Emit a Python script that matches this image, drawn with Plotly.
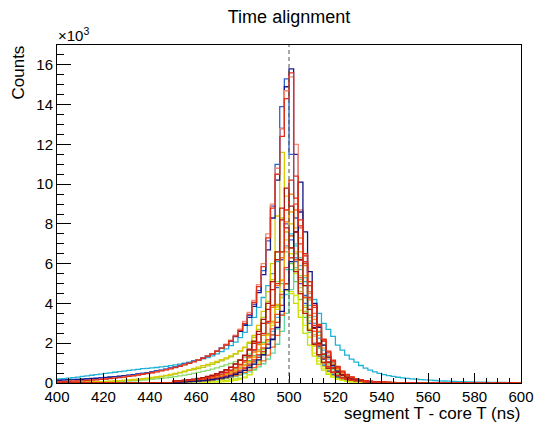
import plotly.graph_objects as go

# ---------------- axis / binning ----------------
X_MIN, X_MAX, BIN_W = 400, 600, 2
X_TICKS = [400, 420, 440, 460, 480, 500, 520, 540, 560, 580, 600]
Y_TICKS = [0, 2, 4, 6, 8, 10, 12, 14, 16]
NARROW_START = 450  # narrow histograms are listed from 450 ns to 550 ns

# ---------------- broad histograms (400..600 ns, 2 ns bins, counts) ----------------
cyan_broad = [200,225,250,275,300, 330,360,390,420,450,
              480,510,540,570,600, 630,660,690,720,740,
              760,780,810,840,870, 910,950,1000,1050,1100,
              1150,1210,1280,1360,1460, 1580,1720,1880,2060,2280,
              2550,2900,3300,3800,4300, 4900,5500,6100,6600,6900,
              6800,6300,5700,5100,4600, 4200,3500,3000,2700,2350,
              1900,1650,1400,1200,1050, 880,750,650,560,480,
              420,370,330,290,260, 235,210,190,170,155,
              140,125,110,100,90, 80,72,65,58,52,
              46,42,38,34,30, 27,24,22,20,18]

green_mid = [10,12,14,16,19, 22,26,30,35,40,
             46,53,61,70,80, 92,106,122,140,160,
             182,206,232,260,290, 322,358,396,438,482,
             530,582,640,700,765, 835,910,990,1080,1180,
             1300,1450,1650,1950,2400, 3000,3900,5100,6600,7600,
             7400,6500,5400,4300,3300, 2450,1750,1230,850,580,
             390,265,180,125,88, 62,45,33,25,19,
             15,12,10,8,6, 5,4,4,3,3,
             2,2,2,2,1, 1,1,1,1,1,
             1,1,1,1,1, 1,1,1,1,1]

olive_mid = [15,18,21,25,29, 34,40,46,53,61,
             70,80,91,104,118, 134,152,172,195,220,
             248,280,315,355,400, 450,505,565,630,670,
             720,790,860,940,1020, 1110,1210,1320,1450,1600,
             1780,2000,2300,2700,3300, 4100,5200,6600,8300,7600,
             6800,5700,4600,3600,2700, 1950,1380,960,660,450,
             310,215,150,108,78, 57,42,31,24,18,
             14,11,9,7,6, 5,4,4,3,3,
             2,2,2,2,1, 1,1,1,1,1,
             1,1,1,1,1, 1,1,1,1,1]

yellow_mid = [20,24,28,33,38, 44,50,57,65,74,
              84,95,108,122,138, 156,176,198,222,250,
              280,312,348,388,432, 480,535,595,660,730,
              800,870,940,1010,1090, 1170,1260,1360,1480,1620,
              1800,2050,2400,2900,3600, 4600,6000,8400,11600,9400,
              8000,6600,5100,3800,2700, 1850,1250,850,580,400,
              280,200,145,105,78, 58,44,34,27,21,
              17,14,11,9,8, 7,6,5,4,4,
              3,3,3,2,2, 2,2,1,1,1,
              1,1,1,1,1, 1,1,1,1,1]

blue_broad = [150,160,170,180,190, 200,215,230,245,265,
              285,305,325,350,375, 400,425,455,490,525,
              560,605,650,700,755, 815,880,950,1025,1100,
              1180,1270,1370,1480,1610, 1760,1930,2120,2350,2620,
              2950,3400,3950,4650,5650, 7150,8900,11000,13900,15300,
              11500,8300,6200,4400,3000, 2000,1350,900,600,420,
              300,215,160,120,90, 70,55,45,37,31,
              26,22,19,16,14, 12,11,10,9,8,
              7,6,6,5,5, 4,4,4,3,3,
              3,3,2,2,2, 2,2,1,1,1]

navy_broad = [130,140,150,160,170, 185,200,215,230,250,
              270,290,310,335,360, 385,410,440,475,510,
              545,590,635,685,740, 800,865,935,1010,1090,
              1170,1260,1360,1470,1600, 1750,1920,2110,2340,2600,
              2900,3300,3850,4550,5450, 6700,8300,10200,12800,14900,
              15800,11500,8600,6100,4200, 2800,1850,1200,780,520,
              360,260,190,140,105, 80,62,50,41,34,
              28,24,20,17,15, 13,11,10,9,8,
              7,6,6,5,5, 4,4,4,3,3,
              3,3,2,2,2, 2,2,1,1,1]

salmon_broad = [70,80,90,100,110, 120,135,150,170,190,
                210,230,255,280,310, 340,370,405,440,480,
                525,570,620,670,725, 785,850,920,995,1075,
                1160,1255,1360,1480,1615, 1770,1950,2160,2410,2710,
                3100,3550,4150,4950,6000, 7500,9000,10800,12800,14700,
                15400,12000,8700,6400,4500, 3000,2000,1300,850,560,
                380,265,190,140,105, 80,62,50,41,34,
                28,24,20,17,15, 13,11,10,9,8,
                7,6,6,5,5, 4,4,4,3,3,
                3,3,2,2,2, 2,2,1,1,1]

red_broad = [60,70,80,90,100, 110,125,140,160,180,
             200,220,245,270,300, 330,360,395,430,470,
             515,560,610,660,715, 775,840,910,985,1065,
             1150,1245,1350,1465,1600, 1750,1920,2120,2360,2650,
             3000,3450,4050,4850,5850, 7300,8800,10500,12400,14300,
             15600,10400,8200,6100,4300, 2900,1900,1250,820,540,
             370,260,190,140,105, 80,62,50,41,34,
             28,24,20,17,15, 13,11,10,9,8,
             7,6,6,5,5, 4,4,4,3,3,
             3,3,2,2,2, 2,2,1,1,1]

# ---------------- narrow histograms (450..550 ns, 2 ns bins, counts) ----------------
red_a = [80,95,110,130,155, 185,220,265,320,380, 450,540,650,780,940, 1130,1370,1680,2050,2500,
         3100,3900,5000,6600,8700, 10200,9300,7900,6500,5100, 3900,2950,2200,1600,1150,
         830,600,430,310,225, 165,120,90,68,52, 40,31,25,20,16]
darkred_a = [90,105,125,150,180, 215,260,310,375,450, 540,650,790,950,1150, 1400,1700,2100,2600,3200,
             4000,5100,6600,8200,9800, 8900,7600,6200,4900,3700, 2750,2000,1450,1050,750,
             540,390,280,200,145, 105,80,60,46,36, 28,22,18,14,11]
orange_a = [70,80,95,115,135, 160,195,235,280,340, 410,490,590,710,860, 1040,1270,1560,1930,2400,
            3000,3800,4900,6300,8100, 9500,8700,7300,5900,4600, 3500,2600,1900,1380,1000,
            720,520,375,270,195, 145,105,80,60,46, 35,27,21,17,13]
red_b = [50,60,70,85,100, 120,145,175,210,255, 305,370,445,540,650, 790,960,1170,1430,1760,
         2180,2720,3450,4450,5800, 7400,9000,7800,6400,5100, 3900,2900,2150,1550,1120,
         800,580,420,300,215, 155,115,85,64,48, 37,28,22,17,13]
navy_b = [40,50,60,70,85, 100,120,145,175,210, 250,300,360,440,530, 640,780,950,1160,1420,
          1750,2200,2800,3600,4700, 6100,7600,10100,7600,5600, 4000,2800,1900,1300,880,
          600,410,280,195,135, 95,68,50,37,28, 21,16,12,9,7]
blue_b = [70,85,100,120,145, 175,210,250,300,360, 430,520,630,760,920, 1110,1350,1650,2020,2480,
          3050,3800,4800,6200,8000, 7200,6100,5000,4000,3100, 2350,1750,1300,950,690,
          500,360,260,190,140, 100,75,56,42,32, 25,19,15,12,9]
cyan_b = [50,60,70,85,100, 120,145,175,210,250, 300,360,430,520,630, 760,920,1120,1370,1680,
          2080,2600,3300,4300,5700, 7500,6900,5900,4900,3900, 3000,2250,1650,1200,860,
          620,450,320,235,170, 125,92,68,51,38, 29,22,17,13,10]
teal_b = [40,48,58,70,84, 100,120,145,175,210, 250,300,360,435,525, 635,770,940,1150,1410,
          1740,2160,2720,3450,4450, 5700,7000,6300,5300,4300, 3350,2550,1900,1400,1020,
          740,530,380,275,200, 145,105,78,58,44, 33,25,19,15,11]
green_b = [60,72,86,104,125, 150,180,215,260,310, 370,445,535,645,775, 935,1130,1370,1670,2040,
           2500,3100,3900,5000,6600, 6000,5100,4200,3300,2550, 1920,1420,1040,760,550,
           400,290,210,150,110, 80,60,45,34,26, 20,15,12,9,7]
lgreen_b = [45,54,65,78,94, 113,136,164,198,238, 286,345,415,500,600, 725,875,1060,1290,1580,
            1950,2420,3050,3900,5000, 6100,5600,4800,3900,3100, 2350,1750,1280,930,670,
            480,345,250,180,130, 95,70,52,39,29, 22,17,13,10,8]
yellow_b = [55,66,80,96,115, 138,166,200,240,290, 350,420,505,610,735, 885,1070,1300,1590,1950,
            2420,3020,3850,5200,7200, 6500,5500,4500,3500,2650, 1950,1420,1030,740,530,
            380,275,200,145,105, 77,57,42,32,24, 18,14,11,8,6]
orange_b = [55,66,80,96,115, 138,166,200,240,290, 350,420,505,610,735, 885,1070,1300,1590,1960,
            2450,3080,3950,5150,6800, 8600,7800,6600,5400,4200, 3200,2400,1750,1270,920,
            660,475,340,245,175, 125,92,68,50,38, 29,22,17,13,10]
lime_a = [15,18,22,27,33, 40,48,58,70,85, 105,130,160,200,250, 300,420,650,1000,1500,
          2100,2900,3700,4300,5000, 4500,4000,3300,2500,1900, 1350,950,650,440,300,
          200,135,90,62,43, 30,21,15,11,8, 6,4,3,2,2]
lime_b = [10,12,14,17,20, 24,29,35,42,50, 60,75,95,130,180, 260,420,700,1100,1700,
          2400,3100,3800,4600,4650, 4600,4400,3650,2900,2300, 1500,1100,750,490,300,
          200,130,85,58,40, 28,20,14,10,7, 5,4,3,2,2]
darkred_b = [100,120,140,165,195, 230,275,330,395,470, 560,670,800,960,1150, 1380,1660,2000,2450,3000,
             3700,4700,6200,8800,7800, 6800,5600,4500,3500,2650, 1950,1420,1030,740,530,
             380,275,200,145,105, 77,57,42,32,24, 18,14,11,8,6]
red_c = [45,54,65,78,94, 113,136,164,198,238, 286,345,415,500,600, 725,875,1060,1290,1580,
         1950,2420,3050,3900,5000, 6300,7600,7000,6000,4900, 3800,2850,2100,1520,1090,
         780,560,400,285,205, 148,107,78,57,42, 31,23,17,13,10]
orange_c = [35,42,50,60,72, 86,103,124,149,179, 215,258,310,372,446, 535,642,770,925,1110,
            1400,1800,2400,3400,5000, 6800,6200,5300,4300,3400, 2600,1950,1450,1060,770,
            560,405,295,215,155, 113,82,60,44,32, 24,18,13,10,8]
aqua_b = [30,36,43,52,62, 75,90,108,130,156, 187,225,270,324,389, 467,560,672,806,968,
          1200,1500,1950,2600,3500, 4700,5800,5200,4300,3400, 2600,1900,1400,1020,740,
          540,390,285,205,150, 110,80,58,42,31, 23,17,13,10,7]

# drawing order (later on top) and colours
SERIES = [
    (cyan_broad, "#1fb2d6"), (green_mid, "#86dc6c"), (olive_mid, "#bcc81e"),
    (yellow_mid, "#d4cc00"), (blue_broad, "#2a62d6"), (navy_broad, "#1a1a8a"),
    (salmon_broad, "#f08a78"),
    (blue_b, "#3a5cd6"), (cyan_b, "#34bde4"), (teal_b, "#44d2bc"), (green_b, "#5cc85c"),
    (lgreen_b, "#98e272"), (lime_a, "#c4e000"), (lime_b, "#d6ea10"), (yellow_b, "#e8dc10"),
    (orange_b, "#f4a818"), (aqua_b, "#5ad8a0"), (orange_a, "#f07d14"), (orange_c, "#f06020"),
    (red_c, "#d83c20"), (red_b, "#ea5030"), (navy_b, "#121280"), (darkred_b, "#c01a10"),
    (darkred_a, "#a8140a"), (red_a, "#e02a12"), (red_broad, "#e0301a"),
]

n_bins = (X_MAX - X_MIN) // BIN_W
edges = [X_MIN + BIN_W * i for i in range(n_bins + 1)]
pad_left = (NARROW_START - X_MIN) // BIN_W

fig = go.Figure()
for vals, col in SERIES:
    if len(vals) < n_bins:
        full = [0] * pad_left + list(vals)
        full = full + [0] * (n_bins - len(full))
    else:
        full = list(vals)
    ys = [v / 1000.0 for v in full]
    fig.add_trace(go.Scatter(
        x=edges, y=ys + [ys[-1]], mode="lines",
        line=dict(color=col, width=1.3, shape="hv"),
        hoverinfo="skip", showlegend=False))

FONT = "Liberation Sans, Arial, Helvetica, sans-serif"

fig.add_shape(type="line", x0=500, x1=500, xref="x", y0=0, y1=1, yref="paper",
              line=dict(color="#505050", width=1, dash="4px,3px"))

fig.update_layout(
    width=536, height=425,
    margin=dict(l=57, r=15, t=45, b=42, autoexpand=False),
    paper_bgcolor="white", plot_bgcolor="white",
    font=dict(family=FONT, color="black"),
    title=dict(text="Time alignment", x=0.5, xref="paper", y=1 - 17 / 425,
               yanchor="middle", xanchor="center", font=dict(size=18, family=FONT)),
    xaxis=dict(range=[X_MIN, X_MAX], tickvals=X_TICKS, ticks="inside", ticklen=10,
               tickcolor="black", showline=True, linecolor="black", linewidth=1,
               mirror=True, showgrid=False, zeroline=False, automargin=False,
               tickfont=dict(size=15, family=FONT),
               minor=dict(dtick=5, tick0=400, ticks="inside", ticklen=5, tickcolor="black")),
    yaxis=dict(range=[0, 17.0], tickvals=Y_TICKS, ticktext=[str(t) for t in Y_TICKS],
               ticks="inside", ticklen=14, automargin=False,
               tickcolor="black", showline=True, linecolor="black", linewidth=1,
               mirror=True, showgrid=False, zeroline=False,
               tickfont=dict(size=15, family=FONT),
               minor=dict(dtick=0.5, tick0=0, ticks="inside", ticklen=7, tickcolor="black")),
)

fig.add_annotation(text="×10<sup>3</sup>", xref="paper", yref="paper", x=0, y=1,
                   xanchor="left", yanchor="bottom", showarrow=False,
                   font=dict(size=15, family=FONT), borderpad=0)
fig.add_annotation(text="Counts", xref="paper", yref="paper", x=(17.5 - 57) / 464, y=1,
                   xanchor="center", yanchor="top", textangle=-90, showarrow=False,
                   font=dict(size=17, family=FONT), borderpad=0)
fig.add_annotation(text="segment T - core T (ns)", xref="paper", yref="paper", x=1,
                   y=(383 - 414) / 338, xanchor="right", yanchor="middle", showarrow=False,
                   font=dict(size=17, family=FONT), borderpad=0)

fig.write_html("out.html")
